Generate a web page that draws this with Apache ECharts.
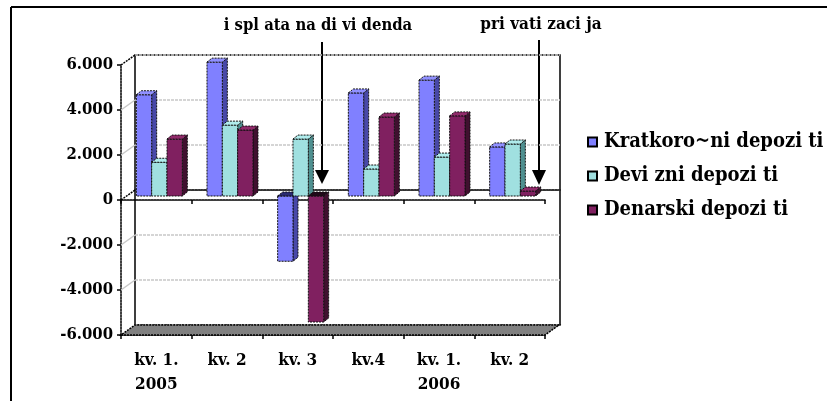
<!DOCTYPE html>
<html>
<head>
<meta charset="utf-8">
<script src="https://cdn.jsdelivr.net/npm/echarts@6/dist/echarts.min.js"></script>
<style>
    html, body { margin: 0; padding: 0; background: #fff; }
    #chart { width: 827px; height: 401px; }
</style>
</head>
<body>
<div id="chart"></div>
<script>
    // podatki
    const categories = ['kv. 1.\n2005', 'kv. 2', 'kv. 3', 'kv.4', 'kv. 1.\n2006', 'kv. 2'];
    const seriesNames = ['Kratkoro~ni depozi ti', 'Devi zni depozi ti', 'Denarski depozi ti'];
    const kratkorocni = [4500, 5950, -2900, 4580, 5150, 2180];
    const devizni = [1500, 3150, 2530, 1200, 1730, 2310];
    const denarski = [2530, 2930, -5600, 3510, 3560, 220];
    const yTicks = [-6000, -4000, -2000, 0, 2000, 4000, 6000];

    const font = '"DejaVu Serif Condensed", "DejaVu Serif"';
    const faceColors = ['#8080FF', '#A0E0E0', '#802060'];
    const topColors = ['#9090FF', '#B0ECEC', '#902A6A'];
    const sideColors = ['#4848A8', '#4F9090', '#40102F'];
    const darkTop = ['#2A2A70', '#3A7070', '#200818'];

    // globina 3D
    const DX = 14, DY = 10;   // zadnja stena
    const BX = 5, BY = 4;     // globina stolpca
    const OX = 3, OY = 4;     // zamik stolpcev od prednje osi

    function fmt(v) {
        if (v === 0) return '0';
        const s = Math.abs(v).toString();
        return (v < 0 ? '-' : '') + s.slice(0, s.length - 3) + '.' + s.slice(-3);
    }

    function barRenderer(s) {
        return function (params, api) {
            const c = api.value(0), v = api.value(1);
            const base = api.coord([c, 0]);
            const end = api.coord([c, v]);
            const band = api.size([1, 0])[0];
            const w = band * 0.217;
            const x0 = base[0] - 1.5 * w + s * w + OX;
            const yb = base[1] - OY;
            const ye = end[1] - OY;
            const stroke = {stroke: '#111', lineWidth: 1, lineDash: [2, 1]};
            const children = [];
            if (v >= 0) {
                children.push({type: 'polygon', shape: {points: [[x0 + w, ye], [x0 + w + BX, ye - BY], [x0 + w + BX, yb - BY], [x0 + w, yb]]},
                    style: Object.assign({fill: sideColors[s]}, stroke)});
                children.push({type: 'rect', shape: {x: x0, y: ye, width: w, height: yb - ye},
                    style: Object.assign({fill: faceColors[s]}, stroke)});
                children.push({type: 'polygon', shape: {points: [[x0, ye], [x0 + BX, ye - BY], [x0 + w + BX, ye - BY], [x0 + w, ye]]},
                    style: Object.assign({fill: topColors[s]}, stroke)});
            } else {
                children.push({type: 'polygon', shape: {points: [[x0 + w, yb], [x0 + w + BX, yb - BY], [x0 + w + BX, ye - BY], [x0 + w, ye]]},
                    style: Object.assign({fill: sideColors[s]}, stroke)});
                children.push({type: 'rect', shape: {x: x0, y: yb, width: w, height: ye - yb},
                    style: Object.assign({fill: faceColors[s]}, stroke)});
                children.push({type: 'polygon', shape: {points: [[x0, yb], [x0 + BX, yb - BY], [x0 + w + BX, yb - BY], [x0 + w, yb]]},
                    style: Object.assign({fill: darkTop[s]}, stroke)});
            }
            return {type: 'group', children: children};
        };
    }

    function decoRenderer(params, api) {
        const cs = params.coordSys;
        const x = cs.x, w = cs.width;
        const yBottom = api.coord([0, yTicks[0]])[1];
        const yTop = api.coord([0, yTicks[yTicks.length - 1]])[1];
        const children = [];
        yTicks.forEach(function (t) {
            if (t === yTicks[0] || t === yTicks[yTicks.length - 1]) return;
            const y = api.coord([0, t])[1];
            children.push({type: 'line', shape: {x1: x, y1: y, x2: x + DX, y2: y - DY},
                style: {stroke: t === 0 ? '#000' : '#C8C8C8', lineWidth: 1.5, lineDash: t === 0 ? [2, 1] : null}});
        });
        children.push({type: 'line', shape: {x1: x, y1: yTop, x2: x + DX, y2: yTop - DY},
            style: {stroke: '#000', lineWidth: 1.5, lineDash: [2, 1]}});
        children.push({type: 'polygon', shape: {points: [[x, yBottom], [x + w, yBottom], [x + w + DX, yBottom - DY], [x + DX, yBottom - DY]]},
            style: {fill: '#808080', stroke: '#000', lineWidth: 1.5, lineDash: [2, 1]}});
        return {type: 'group', children: children};
    }

    const chart = echarts.init(document.getElementById('chart'));
    chart.setOption({
        animation: false,
        textStyle: {fontFamily: font},
        legend: {
            orient: 'vertical',
            left: 582,
            top: 127,
            itemWidth: 9,
            itemHeight: 9,
            itemGap: 14,
            icon: 'rect',
            data: seriesNames,
            textStyle: {fontFamily: font, fontSize: 20, fontWeight: 'bold', color: '#000', padding: [0, 0, 0, 2]}
        },
        grid: [
            {left: 121, right: 282, top: 65, bottom: 66},
            {left: 135, right: 267, top: 55, bottom: 76, show: true, borderColor: '#000', borderWidth: 1.5}
        ],
        xAxis: [
            {
                type: 'category', gridIndex: 0, data: categories,
                axisLine: {onZero: true, lineStyle: {color: '#000', width: 1.5, type: [2, 1]}},
                axisTick: {show: true, length: 4, lineStyle: {color: '#000', width: 1.5}},
                axisLabel: {show: false}
            },
            {
                type: 'category', gridIndex: 1, data: categories,
                axisLine: {onZero: true, lineStyle: {color: '#000', width: 1.5, type: [2, 1]}},
                axisTick: {show: false},
                axisLabel: {show: false}
            },
            {
                type: 'category', gridIndex: 0, data: categories, position: 'bottom',
                axisLine: {onZero: false, lineStyle: {color: '#000', width: 1.5, type: [2, 1]}},
                axisTick: {show: true, length: 4, lineStyle: {color: '#000', width: 1.5}},
                axisLabel: {
                    margin: 14, color: '#000', fontFamily: font, fontSize: 17, fontWeight: 'bold',
                    lineHeight: 24, interval: 0
                }
            }
        ],
        yAxis: [
            {
                type: 'value', gridIndex: 0, min: -6000, max: 6000, interval: 2000,
                axisLine: {show: true, lineStyle: {color: '#000', width: 1.5, type: [2, 1]}},
                axisTick: {show: true, length: 4, lineStyle: {color: '#000', width: 1.5}},
                splitLine: {show: false},
                axisLabel: {
                    margin: 8, color: '#000', fontFamily: font, fontSize: 16.5, fontWeight: 'bold',
                    formatter: fmt
                }
            },
            {
                type: 'value', gridIndex: 1, min: -6000, max: 6000, interval: 2000,
                axisLine: {show: false},
                axisTick: {show: false},
                axisLabel: {show: false},
                splitLine: {show: true, lineStyle: {color: '#C8C8C8', width: 1.5, type: [3, 1]}}
            }
        ],
        series: [
            {
                type: 'custom', name: 'deco', xAxisIndex: 0, yAxisIndex: 0, silent: true, z: 1,
                data: [[0, 0]], renderItem: decoRenderer
            },
            {
                type: 'custom', name: seriesNames[0], xAxisIndex: 0, yAxisIndex: 0, z: 3,
                itemStyle: {color: faceColors[0], borderColor: '#000', borderWidth: 1},
                data: kratkorocni.map(function (v, i) { return [i, v]; }),
                renderItem: barRenderer(0)
            },
            {
                type: 'custom', name: seriesNames[1], xAxisIndex: 0, yAxisIndex: 0, z: 3,
                itemStyle: {color: faceColors[1], borderColor: '#000', borderWidth: 1},
                data: devizni.map(function (v, i) { return [i, v]; }),
                renderItem: barRenderer(1)
            },
            {
                type: 'custom', name: seriesNames[2], xAxisIndex: 0, yAxisIndex: 0, z: 3,
                itemStyle: {color: faceColors[2], borderColor: '#000', borderWidth: 1},
                data: denarski.map(function (v, i) { return [i, v]; }),
                renderItem: barRenderer(2)
            }
        ],
        graphic: [
            {type: 'line', shape: {x1: 11, y1: 7, x2: 827, y2: 7}, style: {stroke: '#000', lineWidth: 2}},
            {type: 'line', shape: {x1: 11, y1: 7, x2: 11, y2: 401}, style: {stroke: '#000', lineWidth: 2}},
            {type: 'text', x: 318, y: 26, style: {text: 'i spl ata na di vi denda', fill: '#000',
                font: 'bold 16.5px ' + font, align: 'center', verticalAlign: 'middle'}},
            {type: 'line', shape: {x1: 322, y1: 42, x2: 322, y2: 172}, style: {stroke: '#000', lineWidth: 2}},
            {type: 'polygon', shape: {points: [[315, 170], [329, 170], [322, 184]]}, style: {fill: '#000'}},
            {type: 'text', x: 541, y: 25, style: {text: 'pri vati zaci ja', fill: '#000',
                font: 'bold 17px ' + font, align: 'center', verticalAlign: 'middle'}},
            {type: 'line', shape: {x1: 539, y1: 40, x2: 539, y2: 172}, style: {stroke: '#000', lineWidth: 2}},
            {type: 'polygon', shape: {points: [[532, 170], [546, 170], [539, 185]]}, style: {fill: '#000'}}
        ]
    });
</script>
</body>
</html>
